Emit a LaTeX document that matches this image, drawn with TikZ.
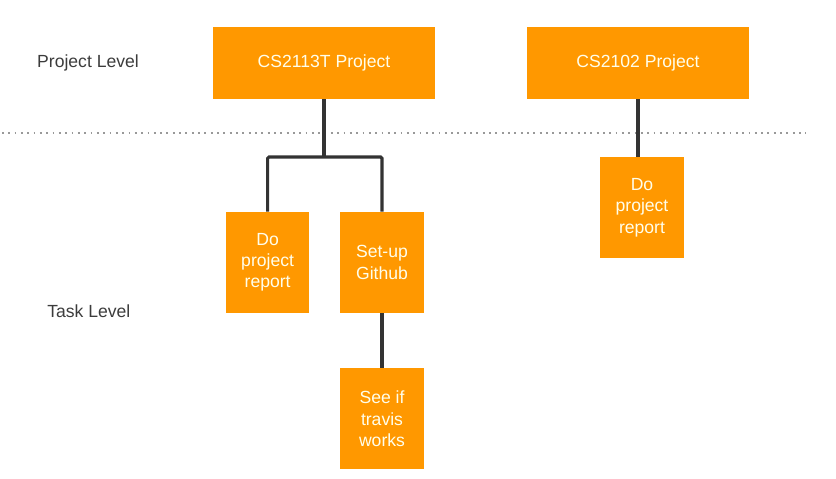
\documentclass[tikz,border=0pt]{standalone}
\usepackage{fontspec}
\setmainfont{Liberation Sans}
\usepackage{xcolor}
\usepackage{tikz}
\usetikzlibrary{calc}

\definecolor{taskorange}{RGB}{255,152,0}
\definecolor{linkgray}{RGB}{51,51,51}
\definecolor{labelgray}{RGB}{60,60,60}

\begin{document}
\begin{tikzpicture}[
  pbox/.style  = {fill=taskorange, minimum width=5.55cm,
                  minimum height=1.80cm, text=white!92!yellow,
                  font=\fontsize{12.5}{15}\selectfont, inner sep=0pt},
  tbox/.style  = {fill=taskorange, minimum width=2.08cm,
                  minimum height=2.52cm, text=white!92!yellow, align=center,
                  font=\fontsize{12.5}{15.2}\selectfont, inner sep=0pt},
  lvl/.style   = {text=labelgray, font=\fontsize{12.5}{15}\selectfont},
  link/.style  = {draw=linkgray, line width=2.2pt},
  sep/.style   = {draw=gray!80, line width=1.3pt,
                  dash pattern=on 1.3pt off 3.2pt},
]
\useasboundingbox (0,0) rectangle (20.9,-11.95);

%% ── level labels ────────────────────────────────────────────────────────────
\node[lvl] (lvlp) at (2.20,-1.575) {Project Level};
\node[lvl] (lvlt) at (2.22,-7.775) {Task Level};

\draw[sep] (0.05,-3.325) -- (20.15,-3.325);

%% ── project level ───────────────────────────────────────────────────────────
\node[pbox] (p1) at (8.10,-1.575)  {CS2113T Project};
\node[pbox] (p2) at (15.95,-1.575) {CS2102 Project};

%% ── task level ──────────────────────────────────────────────────────────────
\node[tbox] (t1) at (6.69,-6.56)  {Do\\project\\report};
\node[tbox] (t2) at (9.55,-6.56)  {Set-up\\Github};
\node[tbox] (t3) at (9.55,-10.47) {See if\\travis\\works};
\node[tbox] (t4) at (16.05,-5.19) {Do\\project\\report};

\coordinate (fork) at (8.10,-3.925);

\draw[link] (p1.south) -- (fork);
\draw[link, rounded corners=1pt] (t1.north) |- (fork) -| (t2.north);
\draw[link] (t2.south) -- (t3.north);
\draw[link] (p2.south) -- (p2.south |- t4.north);

\end{tikzpicture}
\end{document}
